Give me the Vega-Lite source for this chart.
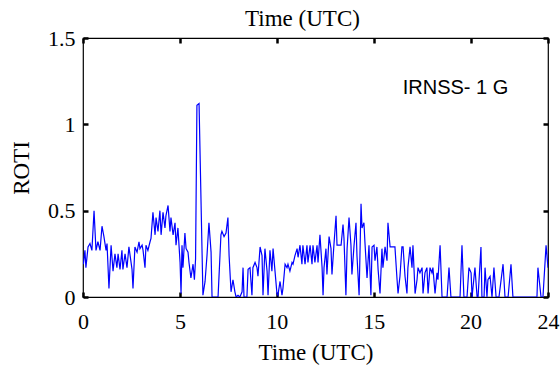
{
  "$schema": "https://vega.github.io/schema/vega-lite/v6.json",
  "autosize": {"type": "none"},
  "padding": {"left": 83, "top": 38, "right": 12, "bottom": 75},
  "width": 465,
  "height": 259,
  "config": {
    "view": {"stroke": "black", "strokeWidth": 1.2},
    "axis": {
      "domain": false,
      "ticks": true,
      "zindex": 1,
      "tickColor": "#000000",
      "tickOpacity": 1,
      "labelColor": "black",
      "titleColor": "black",
      "labelFont": "Liberation Serif",
      "titleFont": "Liberation Serif",
      "labelFontSize": 22,
      "titleFontSize": 23,
      "titleFontWeight": "normal",
      "labelFlush": false,
      "grid": false,
      "tickSize": -5,
      "tickWidth": 2.5
    }
  },
  "layer": [
    {
      "data": {
        "values": [
          {"t":0.02,"r":0.19},{"t":0.10,"r":0.27},{"t":0.15,"r":0.17},{"t":0.26,"r":0.29},{"t":0.36,"r":0.31},{"t":0.46,"r":0.27},{"t":0.57,"r":0.50},{"t":0.67,"r":0.27},{"t":0.77,"r":0.32},{"t":0.88,"r":0.27},{"t":0.98,"r":0.41},{"t":1.08,"r":0.35},{"t":1.19,"r":0.27},{"t":1.24,"r":0.31},{"t":1.34,"r":0.05},{"t":1.45,"r":0.30},{"t":1.55,"r":0.15},{"t":1.65,"r":0.25},{"t":1.75,"r":0.17},{"t":1.81,"r":0.25},{"t":1.91,"r":0.16},{"t":2.01,"r":0.27},{"t":2.06,"r":0.16},{"t":2.17,"r":0.25},{"t":2.27,"r":0.17},{"t":2.37,"r":0.29},{"t":2.53,"r":0.16},{"t":2.58,"r":0.05},{"t":2.68,"r":0.29},{"t":2.79,"r":0.26},{"t":2.89,"r":0.32},
          {"t":2.94,"r":0.28},{"t":3.05,"r":0.30},{"t":3.10,"r":0.27},{"t":3.20,"r":0.17},{"t":3.25,"r":0.30},{"t":3.35,"r":0.27},{"t":3.46,"r":0.32},{"t":3.51,"r":0.34},{"t":3.61,"r":0.49},{"t":3.72,"r":0.36},{"t":3.77,"r":0.46},{"t":3.87,"r":0.38},{"t":3.97,"r":0.50},{"t":4.03,"r":0.36},{"t":4.13,"r":0.49},{"t":4.23,"r":0.40},{"t":4.28,"r":0.47},{"t":4.39,"r":0.53},{"t":4.49,"r":0.38},{"t":4.54,"r":0.46},{"t":4.65,"r":0.36},{"t":4.75,"r":0.43},{"t":4.80,"r":0.30},{"t":4.90,"r":0.40},{"t":5.01,"r":0.20},{"t":5.06,"r":0.02},{"t":5.11,"r":0.30},{"t":5.16,"r":0.17},{"t":5.26,"r":0.37},{"t":5.32,"r":0.28},{"t":5.42,"r":0.26},{"t":5.47,"r":0.20},{"t":5.57,"r":0.11},{"t":5.68,"r":0.19},{"t":5.75,"r":0.10},{"t":5.81,"r":0.22},{"t":5.88,"r":1.11},{"t":5.99,"r":1.12},
          {"t":6.19,"r":0.01},{"t":6.30,"r":0.09},{"t":6.40,"r":0.24},{"t":6.50,"r":0.43},{"t":6.61,"r":0.26},{"t":6.66,"r":0.00},{"t":6.97,"r":0.00},{"t":7.12,"r":0.36},{"t":7.17,"r":0.38},{"t":7.28,"r":0.35},{"t":7.38,"r":0.37},{"t":7.48,"r":0.46},{"t":7.54,"r":0.24},{"t":7.64,"r":0.03},{"t":7.74,"r":0.10},{"t":7.84,"r":0.03},{"t":7.90,"r":0.00},{"t":8.00,"r":0.01},{"t":8.10,"r":0.00},{"t":8.21,"r":0.03},{"t":8.26,"r":0.17},{"t":8.31,"r":0.00},{"t":8.46,"r":0.00},{"t":8.52,"r":0.16},
          {"t":8.62,"r":0.17},{"t":8.72,"r":0.01},{"t":8.77,"r":0.17},{"t":8.88,"r":0.20},{"t":8.98,"r":0.17},{"t":9.03,"r":0.12},{"t":9.14,"r":0.29},{"t":9.24,"r":0.24},{"t":9.29,"r":0.01},{"t":9.39,"r":0.28},{"t":9.50,"r":0.15},{"t":9.55,"r":0.01},{"t":9.65,"r":0.27},{"t":9.75,"r":0.15},{"t":9.81,"r":0.28},{"t":9.91,"r":0.15},{"t":10.01,"r":0.02},{"t":10.06,"r":0.01},{"t":10.17,"r":0.09},{"t":10.27,"r":0.01},{"t":10.32,"r":0.05},{"t":10.43,"r":0.19},{"t":10.53,"r":0.17},{"t":10.58,"r":0.19},{"t":10.68,"r":0.15},{"t":10.79,"r":0.20},{"t":10.84,"r":0.19},{"t":10.94,"r":0.24},{"t":11.05,"r":0.28},{"t":11.10,"r":0.23},{"t":11.20,"r":0.30},
          {"t":11.30,"r":0.19},{"t":11.35,"r":0.30},{"t":11.46,"r":0.19},{"t":11.56,"r":0.30},{"t":11.61,"r":0.20},{"t":11.72,"r":0.30},{"t":11.82,"r":0.19},{"t":11.87,"r":0.30},{"t":11.97,"r":0.20},{"t":12.08,"r":0.30},{"t":12.13,"r":0.20},{"t":12.23,"r":0.36},{"t":12.34,"r":0.17},{"t":12.39,"r":0.01},{"t":12.44,"r":0.17},{"t":12.54,"r":0.28},{"t":12.59,"r":0.13},{"t":12.70,"r":0.35},{"t":12.80,"r":0.28},{"t":12.85,"r":0.13},{"t":12.95,"r":0.30},{"t":13.06,"r":0.47},{"t":13.11,"r":0.30},{"t":13.32,"r":0.30},{"t":13.42,"r":0.42},{"t":13.47,"r":0.34},{"t":13.57,"r":0.01},{"t":13.63,"r":0.28},{"t":13.73,"r":0.46},{"t":13.83,"r":0.30},{"t":13.88,"r":0.13},{"t":13.99,"r":0.30},{"t":14.09,"r":0.43},{"t":14.14,"r":0.24},{"t":14.25,"r":0.01},
          {"t":14.35,"r":0.54},{"t":14.40,"r":0.40},{"t":14.50,"r":0.43},{"t":14.55,"r":0.32},{"t":14.66,"r":0.11},{"t":14.76,"r":0.30},{"t":14.86,"r":0.01},{"t":14.92,"r":0.29},{"t":15.02,"r":0.30},{"t":15.07,"r":0.21},{"t":15.17,"r":0.29},{"t":15.23,"r":0.16},{"t":15.33,"r":0.02},{"t":15.43,"r":0.28},{"t":15.48,"r":0.17},{"t":15.59,"r":0.29},{"t":15.69,"r":0.21},{"t":15.74,"r":0.43},{"t":15.85,"r":0.29},{"t":16.10,"r":0.29},{"t":16.21,"r":0.10},{"t":16.26,"r":0.02},{"t":16.36,"r":0.12},{"t":16.46,"r":0.29},{"t":16.52,"r":0.29},{"t":16.62,"r":0.12},{"t":16.72,"r":0.02},{"t":16.77,"r":0.17},{"t":16.88,"r":0.29},{"t":16.98,"r":0.17},{"t":17.03,"r":0.30},{"t":17.14,"r":0.02},{"t":17.24,"r":0.10},{"t":17.29,"r":0.17},{"t":17.39,"r":0.14},{"t":17.50,"r":0.17},{"t":17.55,"r":0.02},{"t":17.65,"r":0.14},{"t":17.75,"r":0.17},{"t":17.81,"r":0.02},{"t":17.91,"r":0.17},{"t":18.01,"r":0.14},{"t":18.06,"r":0.17},{"t":18.17,"r":0.02},{"t":18.27,"r":0.14},{"t":18.32,"r":0.10},{"t":18.43,"r":0.30},{"t":18.53,"r":0.00},{"t":18.79,"r":0.00},{"t":18.89,"r":0.17},{"t":18.99,"r":0.00},{"t":19.46,"r":0.00},{"t":19.56,"r":0.30},{"t":19.66,"r":0.00},{"t":19.82,"r":0.00},{"t":19.92,"r":0.17},{"t":20.03,"r":0.14},{"t":20.08,"r":0.00},{"t":20.23,"r":0.17},{"t":20.34,"r":0.00},{"t":20.39,"r":0.00},{"t":20.54,"r":0.29},{"t":20.59,"r":0.00},{"t":20.70,"r":0.00},{"t":20.75,"r":0.17},{"t":20.85,"r":0.00},{"t":20.90,"r":0.10},{"t":21.01,"r":0.12},{"t":21.11,"r":0.00},{"t":21.21,"r":0.17},{"t":21.32,"r":0.00},{"t":21.47,"r":0.00},{"t":21.68,"r":0.19},{"t":21.78,"r":0.00},{"t":21.94,"r":0.00},{"t":22.09,"r":0.19},{"t":22.19,"r":0.00},{"t":23.43,"r":0.00},{"t":23.48,"r":0.17},{"t":23.64,"r":0.00},{"t":23.74,"r":0.00},{"t":23.90,"r":0.30},{"t":24.00,"r":0.17}
        ]
      },
      "mark": {"type": "line", "color": "#0000ff", "strokeWidth": 1.2, "clip": true},
      "encoding": {
        "x": {
          "field": "t", "type": "quantitative",
          "scale": {"domain": [0, 24], "nice": false, "zero": false},
          "axis": {"orient": "bottom", "values": [0, 5, 10, 15, 20, 24], "title": "Time (UTC)", "labelPadding": 19, "titlePadding": 9}
        },
        "y": {
          "field": "r", "type": "quantitative",
          "scale": {"domain": [0, 1.5], "nice": false},
          "axis": {"orient": "left", "values": [0, 0.5, 1, 1.5], "format": "~g", "title": "ROTI", "labelPadding": 13, "titlePadding": 14}
        }
      }
    },
    {
      "data": {"values": [{"t": 16.5, "r": 1.21, "label": "IRNSS- 1 G"}]},
      "mark": {"type": "text", "align": "left", "baseline": "middle", "font": "Liberation Sans", "fontSize": 20, "color": "black"},
      "encoding": {
        "text": {"field": "label"},
        "x": {
          "field": "t", "type": "quantitative",
          "axis": {"orient": "top", "values": [0, 5, 10, 15, 20, 24], "labels": false, "title": "Time (UTC)", "titlePadding": 6, "titleX": 219}
        },
        "y": {
          "field": "r", "type": "quantitative",
          "axis": {"orient": "right", "values": [0, 0.5, 1, 1.5], "labels": false, "title": null}
        }
      }
    }
  ],
  "resolve": {"axis": {"x": "independent", "y": "independent"}}
}
